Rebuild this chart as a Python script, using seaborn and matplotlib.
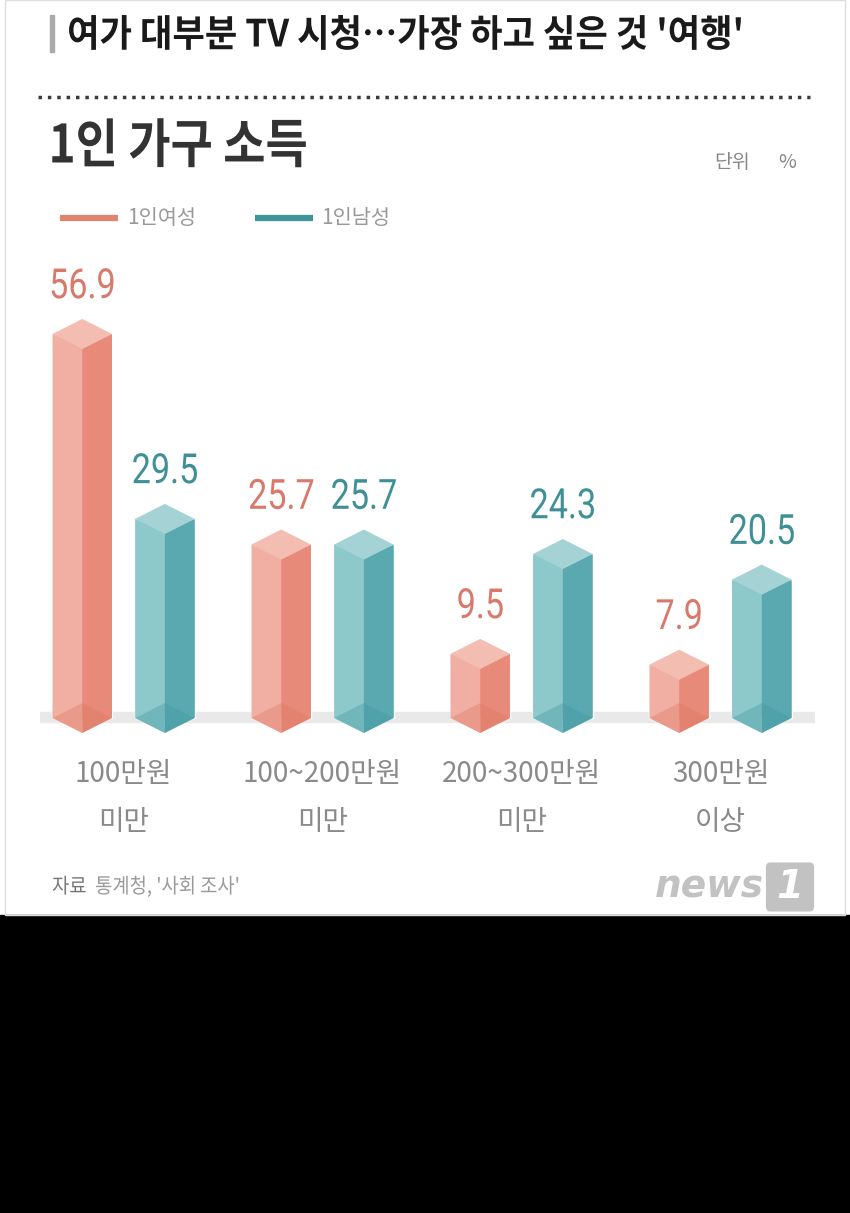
import pandas as pd
import matplotlib.pyplot as plt
import matplotlib.transforms as mtransforms
import seaborn as sns
from matplotlib.patches import Polygon, Rectangle, FancyBboxPatch
from matplotlib.lines import Line2D
from matplotlib.patheffects import AbstractPathEffect

categories = ['100만원\n미만', '100~200만원\n미만', '200~300만원\n미만', '300만원\n이상']
series = ['1인여성', '1인남성']
women = [56.9, 25.7, 9.5, 7.9]
men = [29.5, 25.7, 24.3, 20.5]

df = pd.DataFrame({
    'income': categories * 2,
    'group': [series[0]] * 4 + [series[1]] * 4,
    'pct': women + men,
})

# face colours: left (light), right (dark), top, bottom shade, label text
faces = {
    series[0]: dict(left='#F0AFA2', right='#E88A79', top='#F3BDB1', bottom='#DE7462', text='#D9796B', legend='#E0836F'),
    series[1]: dict(left='#8DC8CB', right='#5AA9B0', top='#A5D3D5', bottom='#3F979F', text='#3E9096', legend='#3E9598'),
}

sns.set_theme(style='white')
plt.rcParams['font.family'] = ['Noto Sans CJK KR', 'DejaVu Sans']
num_font = ['Roboto', 'DejaVu Sans']


class Squeeze(AbstractPathEffect):
    """Draw text narrower (condensed look), keeping its centre."""

    def __init__(self, sx):
        super().__init__()
        self.sx = sx

    def draw_path(self, renderer, gc, tpath, affine, rgbFace=None):
        ext = tpath.get_extents()
        cx = (ext.x0 + ext.x1) / 2
        t = mtransforms.Affine2D().translate(-cx, 0).scale(self.sx, 1).translate(cx, 0) + affine
        renderer.draw_path(gc, tpath, t, rgbFace)


def squeeze_left(sx):
    # same, but anchored at the left edge
    class _L(Squeeze):
        def draw_path(self, renderer, gc, tpath, affine, rgbFace=None):
            x0 = tpath.get_extents().x0
            t = mtransforms.Affine2D().translate(-x0, 0).scale(self.sx, 1).translate(x0, 0) + affine
            renderer.draw_path(gc, tpath, t, rgbFace)
    return _L(sx)


W, H = 850, 1213
fig = plt.figure(figsize=(W / 100, H / 100), dpi=100)
fig.patch.set_facecolor('white')


def fx(px):
    return px / W


def fy(py):
    return 1 - py / H


# black strip at the bottom and a faint frame round the card
fig.patches.append(Rectangle((0, 0), 1, fy(915), transform=fig.transFigure,
                             color='black', zorder=0))
fig.patches.append(Rectangle((fx(5), fy(915)), fx(840), 915 / H, transform=fig.transFigure,
                             facecolor='none', edgecolor='#DDDDDD', lw=1, zorder=0))

# header
fig.patches.append(Rectangle((fx(50), fy(52)), fx(4), 37 / H, transform=fig.transFigure,
                             color='#AAAAAA'))
fig.text(fx(67), fy(35), "여가 대부분 TV 시청…가장 하고 싶은 것 '여행'", fontsize=27,
         fontweight='bold', color='#1A1A1A', va='center', path_effects=[squeeze_left(0.94)])
fig.lines.append(Line2D([fx(38), fx(810)], [fy(97), fy(97)], transform=fig.transFigure,
                        color='#3A3A3A', lw=2.5, linestyle=(0, (1, 1.7))))
fig.text(fx(48), fy(147), '1인 가구 소득', fontsize=38, fontweight='bold', color='#333333',
         va='center', path_effects=[squeeze_left(0.87)])
fig.text(fx(714), fy(162), '단위', fontsize=14, color='#888888', va='center')
fig.text(fx(778), fy(162), '%', fontsize=14, color='#888888', va='center')

# legend
for name, x0, tx in [(series[0], 60, 127), (series[1], 255, 321)]:
    fig.lines.append(Line2D([fx(x0), fx(x0 + 58)], [fy(218), fy(218)], transform=fig.transFigure,
                            color=faces[name]['legend'], lw=4.5, solid_capstyle='butt'))
    fig.text(fx(tx), fy(218), name, fontsize=15, color='#999999', va='center')

# chart area
ax_top, ax_bot, zero_px = 250, 745, 718
k = 6.75  # pixels per percent
ymin = -(ax_bot - zero_px) / k
ax = fig.add_axes([fx(40), fy(ax_bot), fx(775), (ax_bot - ax_top) / H])
sns.barplot(data=df, x='income', y='pct', hue='group', hue_order=series,
            palette=[faces[s]['left'] for s in series], saturation=1,
            width=0.83, gap=0.28, legend=False, ax=ax, zorder=3)
ax.set_xlim(-0.42, 3.475)
ax.set_ylim(ymin, ymin + (ax_bot - ax_top) / k)
ax.set_axis_off()

# floor strip
ax.axhspan(-4 / k, 6 / k, color='#E9E9E9', zorder=1)

e = 15 / k  # depth of the front edge
f = 15 / k  # depth of the back apex
for name, cont in zip(series, ax.containers):
    c = faces[name]
    for bar in cont:
        x0, w, h = bar.get_x(), bar.get_width(), bar.get_height()
        xc, x1 = x0 + w / 2, x0 + w
        ax.add_patch(Polygon([(x0, 0), (x0, h), (xc, h - e), (xc, -e)],
                             closed=True, color=c['left'], lw=0, zorder=4))
        ax.add_patch(Polygon([(xc, -e), (xc, h - e), (x1, h), (x1, 0)],
                             closed=True, color=c['right'], lw=0, zorder=4))
        ax.add_patch(Polygon([(x0, h), (xc, h - e), (x1, h), (xc, h + f)],
                             closed=True, color=c['top'], lw=0, zorder=5))
        ax.add_patch(Polygon([(x0, 0), (xc, -e), (x1, 0), (xc, f)],
                             closed=True, color=c['bottom'], alpha=0.35, lw=0, zorder=5))
        ax.annotate(f'{h:.1f}', xy=(xc, h), xytext=(0, 34), textcoords='offset points',
                    ha='center', va='center', fontsize=30, color=c['text'], family=num_font,
                    path_effects=[Squeeze(0.82)])

# category labels under the groups
trans = mtransforms.blended_transform_factory(ax.transData, fig.transFigure)
for i, cat in enumerate(categories):
    ax.text(i, fy(798), cat, transform=trans, ha='center', va='center', fontsize=20,
            color='#8A8A8A', linespacing=1.75)

# source and logo
fig.text(fx(52), fy(887), '자료', fontsize=15, color='#777777', va='center',
         path_effects=[squeeze_left(0.9)])
fig.text(fx(95), fy(887), "통계청, '사회 조사'", fontsize=15, color='#9A9A9A', va='center',
         path_effects=[squeeze_left(0.9)])
fig.text(fx(655), fy(888), 'news', fontsize=27, fontstyle='italic', fontweight='bold',
         color='#C2C2C2', va='center', family='DejaVu Sans')
fig.patches.append(FancyBboxPatch((fx(770), fy(906)), fx(40), 38 / H, transform=fig.transFigure,
                                  boxstyle='round,pad=0.004', color='#C2C2C2'))
fig.text(fx(790), fy(887), '1', fontsize=28, fontstyle='italic', fontweight='bold',
         color='white', ha='center', va='center', family='DejaVu Sans')

fig.savefig('out.png', dpi=100)
